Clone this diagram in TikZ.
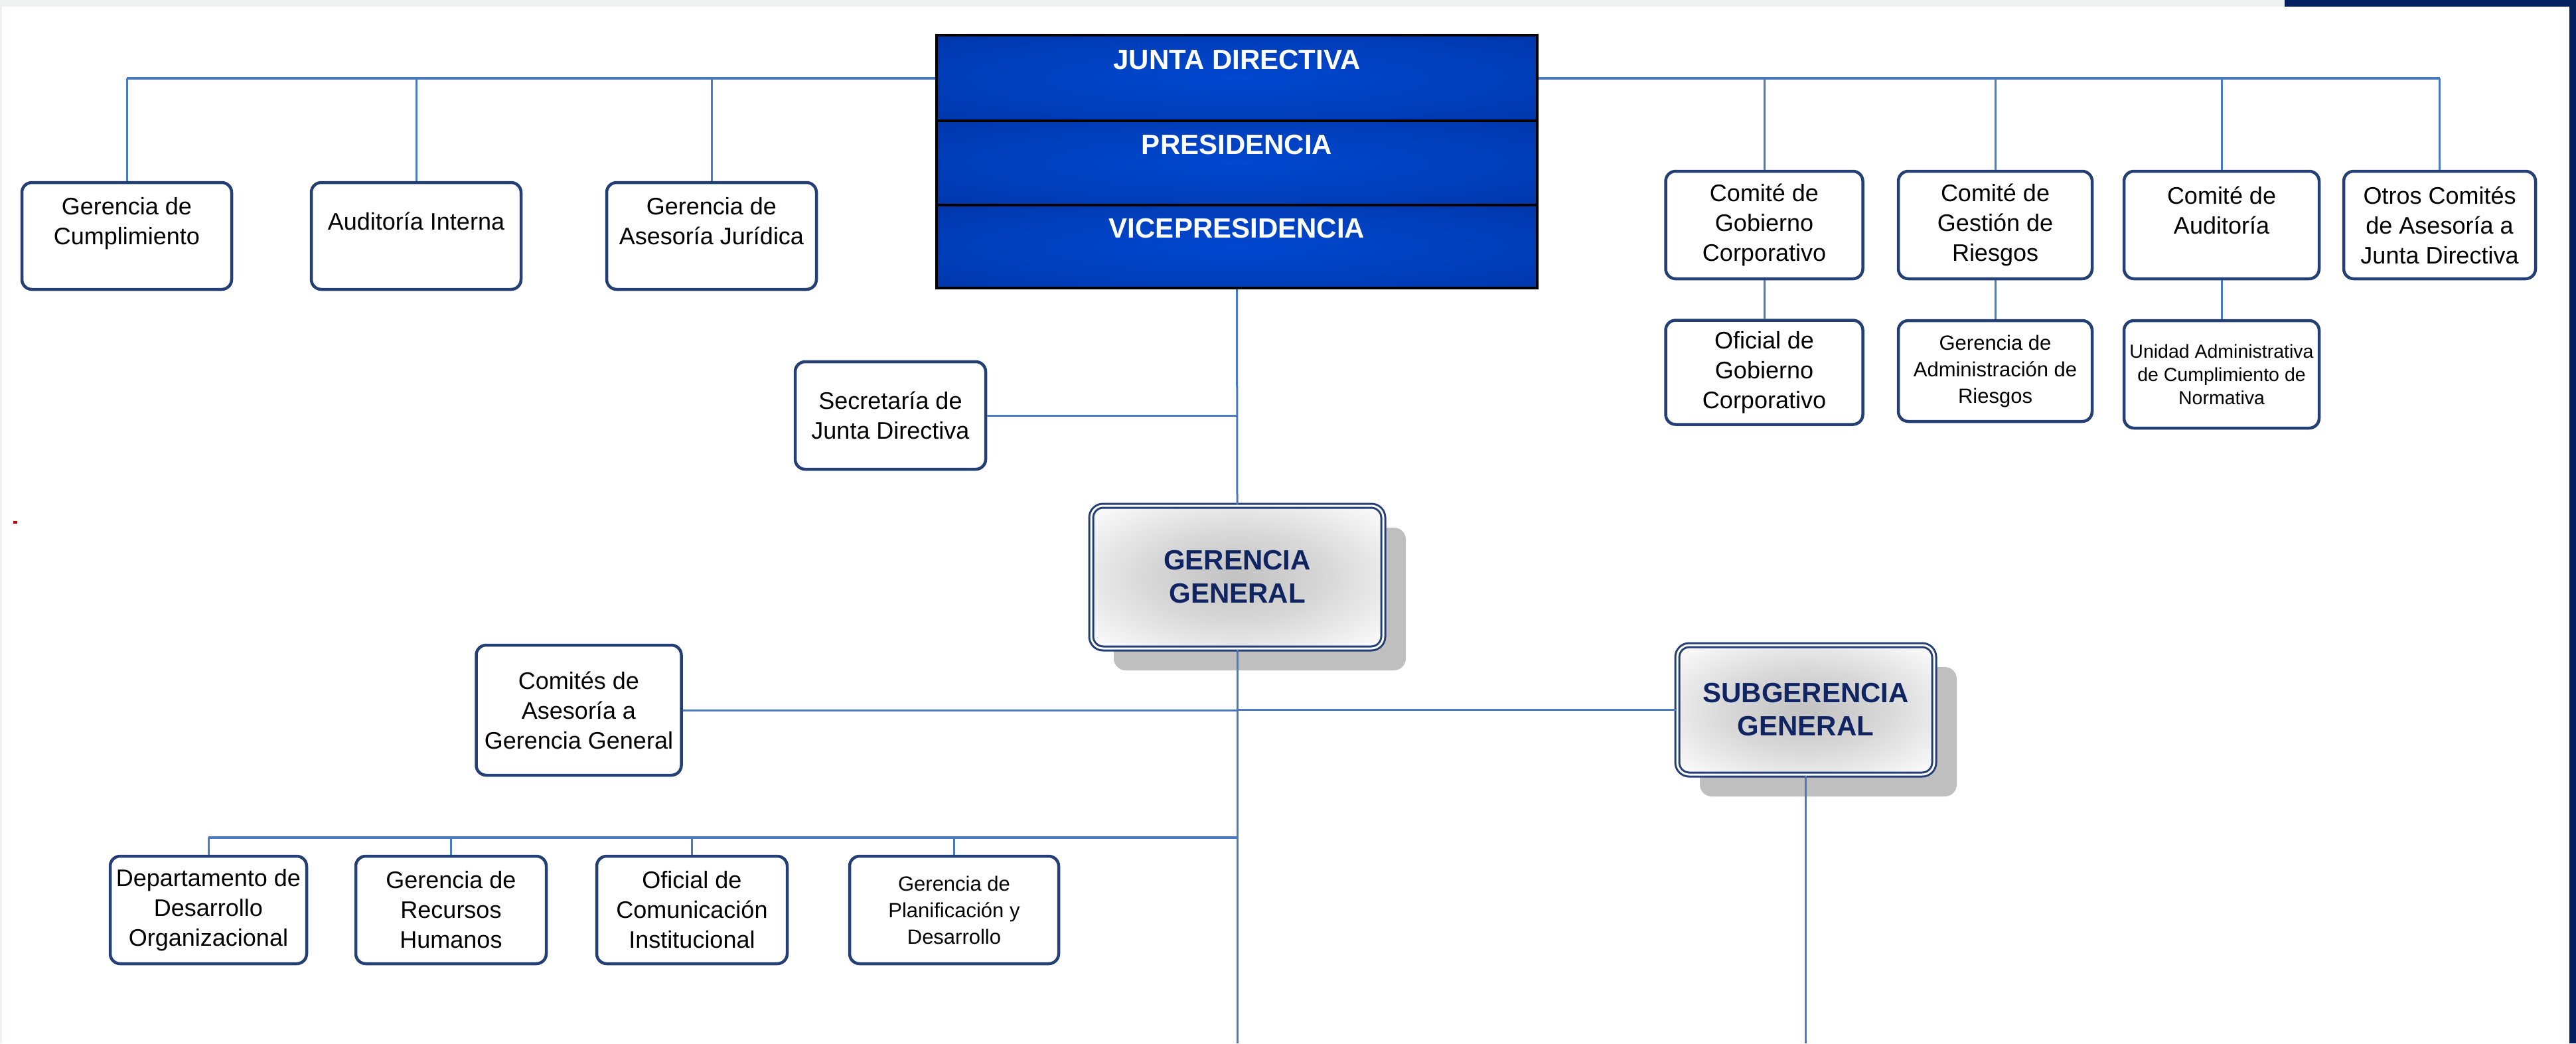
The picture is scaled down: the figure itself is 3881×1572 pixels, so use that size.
\documentclass[tikz,border=0pt]{standalone}
\usepackage{fontspec}
\setmainfont{Liberation Sans}
\usetikzlibrary{shadows}
\definecolor{connc}{RGB}{74,122,192}
\definecolor{boxnavy}{RGB}{36,63,116}
\definecolor{navytext}{RGB}{16,36,98}
\definecolor{barnavy}{RGB}{2,32,96}
\definecolor{topgray}{RGB}{239,241,240}
\definecolor{shadowgray}{RGB}{191,191,191}
\definecolor{bluec}{RGB}{0,72,208}
\definecolor{bluem}{RGB}{0,58,178}
\definecolor{blueo}{RGB}{0,46,142}
\pgfdeclareradialshading{ggshade}{\pgfpoint{0bp}{0bp}}{color(0bp)=(black!24); color(16bp)=(black!15); color(36bp)=(white); color(50bp)=(white)}
\pgfdeclareradialshading{bandshade}{\pgfpoint{0bp}{0bp}}{color(0bp)=(bluec); color(30bp)=(bluem); color(50bp)=(blueo)}
\tikzset{
  orgbox/.style={draw=boxnavy, line width=4.5pt, rounded corners=15pt, fill=white,
    inner sep=0pt, align=center, font=\fontsize{36}{45}\selectfont},
  smallbox/.style={orgbox, font=\fontsize{31}{40}\selectfont},
  tinybox/.style={orgbox, font=\fontsize{28.5}{35}\selectfont},
  hdrband/.style={draw=black, line width=4pt, shade, shading=bandshade, inner sep=0pt,
    minimum width=905pt, text=white, font=\fontsize{42}{50}\selectfont\bfseries,
    text height=30pt, text depth=56pt},
  bigbox/.style={draw=boxnavy, line width=3pt, double=white, double distance=3pt,
    rounded corners=18pt, shade, shading=ggshade, inner sep=0pt, align=center,
    text=navytext, font=\fontsize{42}{50}\selectfont\bfseries,
    drop shadow={shadow xshift=34pt, shadow yshift=-33pt, fill=shadowgray, opacity=1}},
  bus/.style={draw=connc, line width=4pt},
  drop/.style={draw=connc, line width=3pt}
}
\begin{document}
\begin{tikzpicture}[x=1pt,y=-1pt]
\useasboundingbox (0,0) rectangle (3881,1572);
\fill[white] (0,0) rectangle (3881,1572);
% page frame
\fill[topgray] (0,0) rectangle (3442,10);
\fill[topgray] (0,0) rectangle (2.5,1572);
\fill[barnavy] (3442,0) rectangle (3881,10);
\fill[barnavy] (3871,0) rectangle (3881,1572);
\fill[red!80!black] (20,785) rectangle (26,789);

% top block
\node[hdrband, minimum height=129pt] (jd) at (1863.5,117.5) {JUNTA DIRECTIVA};
\node[hdrband, minimum height=127pt] (pres) at (1863.5,245.5) {PRESIDENCIA};
\node[hdrband, minimum height=125pt] (vice) at (1863.5,371.5) {VICEPRESIDENCIA};

% top left row
\node[orgbox, minimum width=316pt, minimum height=161pt] (cump) at (191,355.5) {Gerencia de\\Cumplimiento\\\mbox{}};
\node[orgbox, minimum width=316pt, minimum height=161pt] (audit) at (627,355.5) {Auditoría Interna\\\mbox{}};
\node[orgbox, minimum width=316pt, minimum height=161pt] (jurid) at (1072,355.5) {Gerencia de\\Asesoría Jurídica\\\mbox{}};

% top right committees
\node[orgbox, minimum width=297pt, minimum height=162pt] (gob) at (2658,339) {Comité de\\Gobierno\\Corporativo};
\node[orgbox, minimum width=292pt, minimum height=162pt] (ries) at (3006,339) {Comité de\\Gestión de\\Riesgos};
\node[orgbox, minimum width=294pt, minimum height=162pt] (aud2) at (3347,339) {Comité de\\Auditoría\\\mbox{}};
\node[orgbox, minimum width=289pt, minimum height=162pt] (otros) at (3675.5,339) {Otros Comités\\de Asesoría a\\Junta Directiva};

\node[orgbox, minimum width=297pt, minimum height=157pt] (ofgob) at (2658,561) {Oficial de\\Gobierno\\Corporativo};
\node[smallbox, minimum width=292pt, minimum height=152pt] (geradm) at (3006,559) {Gerencia de\\Administración de\\Riesgos};
\node[tinybox, minimum width=294pt, minimum height=162pt] (unid) at (3347,564) {Unidad Administrativa\\de Cumplimiento de\\Normativa};

% middle
\node[orgbox, minimum width=287pt, minimum height=162pt] (sec) at (1341.5,626) {Secretaría de\\Junta Directiva};
\node[bigbox, minimum width=440pt, minimum height=215pt] (gg) at (1864,869.5) {GERENCIA\\GENERAL};
\node[bigbox, minimum width=387pt, minimum height=195pt] (sub) at (2720.5,1069.5) {SUBGERENCIA\\GENERAL};
\node[orgbox, minimum width=309pt, minimum height=196pt] (cgg) at (872,1070) {Comités de\\Asesoría a\\Gerencia General};

% bottom row
\node[orgbox, minimum width=296pt, minimum height=162pt] (depto) at (314,1371) {Departamento de\\Desarrollo\\Organizacional};
\node[orgbox, minimum width=287pt, minimum height=162pt] (rrhh) at (679.5,1371) {Gerencia de\\Recursos\\Humanos};
\node[orgbox, minimum width=287pt, minimum height=162pt] (ofcom) at (1042.5,1371) {Oficial de\\Comunicación\\Institucional};
\node[smallbox, minimum width=315pt, minimum height=162pt] (planif) at (1437.5,1371) {Gerencia de\\Planificación y\\Desarrollo};

\coordinate (endM) at (1864,1572);
\coordinate (endS) at (2720.5,1572);
\coordinate (busB) at (1864,1262);

% connectors
\draw[bus] (cump.north |- jd.west) -- (jd.west);
\draw[bus] (jd.east) -- (otros.north |- jd.east);
\foreach \n in {cump,audit,jurid,gob,ries,aud2,otros}
  \draw[drop] (\n.north) -- (\n.north |- jd.west);
\draw[drop] (gob.south) -- (ofgob.north);
\draw[drop] (ries.south) -- (geradm.north);
\draw[drop] (aud2.south) -- (unid.north);
\draw[drop] (vice.south) -- (gg.north);
\draw[drop] (sec.east) -- (sec.east -| vice.south);
\draw[drop] (gg.south) -- (endM);
\draw[drop] (cgg.east) -- (cgg.east -| gg.south);
\draw[drop] (gg.south |- sub.west) -- (sub.west);
\draw[bus] (depto.north |- busB) -- (busB);
\foreach \n in {depto,rrhh,ofcom,planif}
  \draw[drop] (\n.north) -- (\n.north |- busB);
\draw[drop] (sub.south) -- (endS);
\end{tikzpicture}
\end{document}
